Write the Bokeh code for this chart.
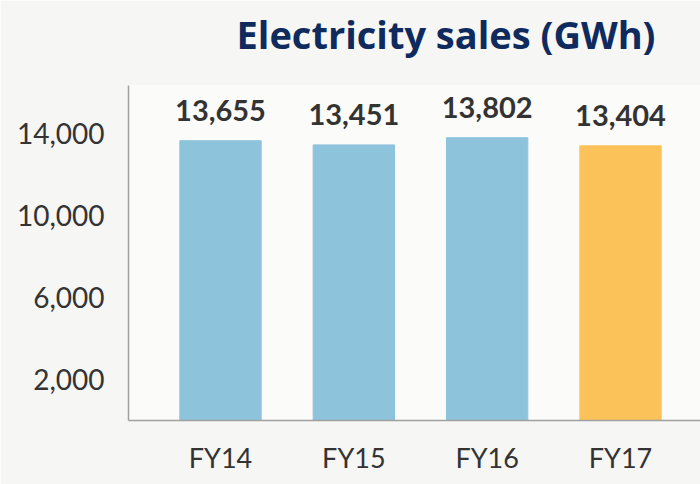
from bokeh.plotting import figure
from bokeh.models import ColumnDataSource, Range1d, FixedTicker, Title
from bokeh.core.properties import value
from bokeh.embed import file_html
from bokeh.resources import INLINE

categories = ["FY14", "FY15", "FY16", "FY17"]
sales = [13655, 13451, 13802, 13404]
bar_colors = ["#8ec3dc", "#8ec3dc", "#8ec3dc", "#fcc25a"]
tick_values = [2000, 6000, 10000, 14000]
tick_labels = ["2,000", "6,000", "10,000", "14,000"]
title_text = "Electricity sales (GWh)"

xpos = list(range(len(categories)))
labels = [f"{v:,}" for v in sales]
src = ColumnDataSource(dict(x=xpos, top=sales, color=bar_colors, label=labels))

xr = Range1d(-0.69, 3.60)
yr = Range1d(0, 16350)
p = figure(width=700, height=484, output_backend="svg", toolbar_location=None,
           x_range=xr, y_range=yr,
           min_border_left=128, min_border_right=0, min_border_bottom=64, min_border_top=85)

p.vbar(x="x", top="top", width=0.61, color="color", source=src)
p.text(x="x", y="top", text="label", source=src, text_align="center", text_baseline="bottom",
       y_offset=-20, text_font=value("Lato"), text_font_style="bold", text_font_size="29px",
       text_color="#333333")

# spacer between frame and title (nearest the frame)
spacer = Title(text=" ", text_font="Open Sans", text_font_size="12px", standoff=5)
p.add_layout(spacer, "above")
title = Title(text=title_text, align="right", vertical_align="bottom",
              text_font="Open Sans", text_font_style="bold", text_font_size="38px",
              text_color="#0f2a5c", offset=45, standoff=4)
p.add_layout(title, "above")

p.background_fill_color = "#fbfbf9"
p.border_fill_color = "#f6f6f4"
p.outline_line_color = None
p.grid.visible = False

p.xaxis.ticker = FixedTicker(ticks=xpos)
p.xaxis.major_label_overrides = {i: c for i, c in enumerate(categories)}
p.yaxis.ticker = FixedTicker(ticks=tick_values)
p.yaxis.major_label_overrides = {v: l for v, l in zip(tick_values, tick_labels)}

for ax in (p.xaxis, p.yaxis):
    ax.axis_line_color = "#a0a0a0"
    ax.axis_line_width = 1.5
    ax.major_tick_line_color = None
    ax.minor_tick_line_color = None
    ax.major_label_text_font = "Lato"
    ax.major_label_text_font_size = "28px"
    ax.major_label_text_color = "#333333"
p.xaxis.major_label_text_font_size = "27px"
p.xaxis.major_label_standoff = 14
p.yaxis.major_label_standoff = 18

open("out.html", "w").write(file_html(p, INLINE))
